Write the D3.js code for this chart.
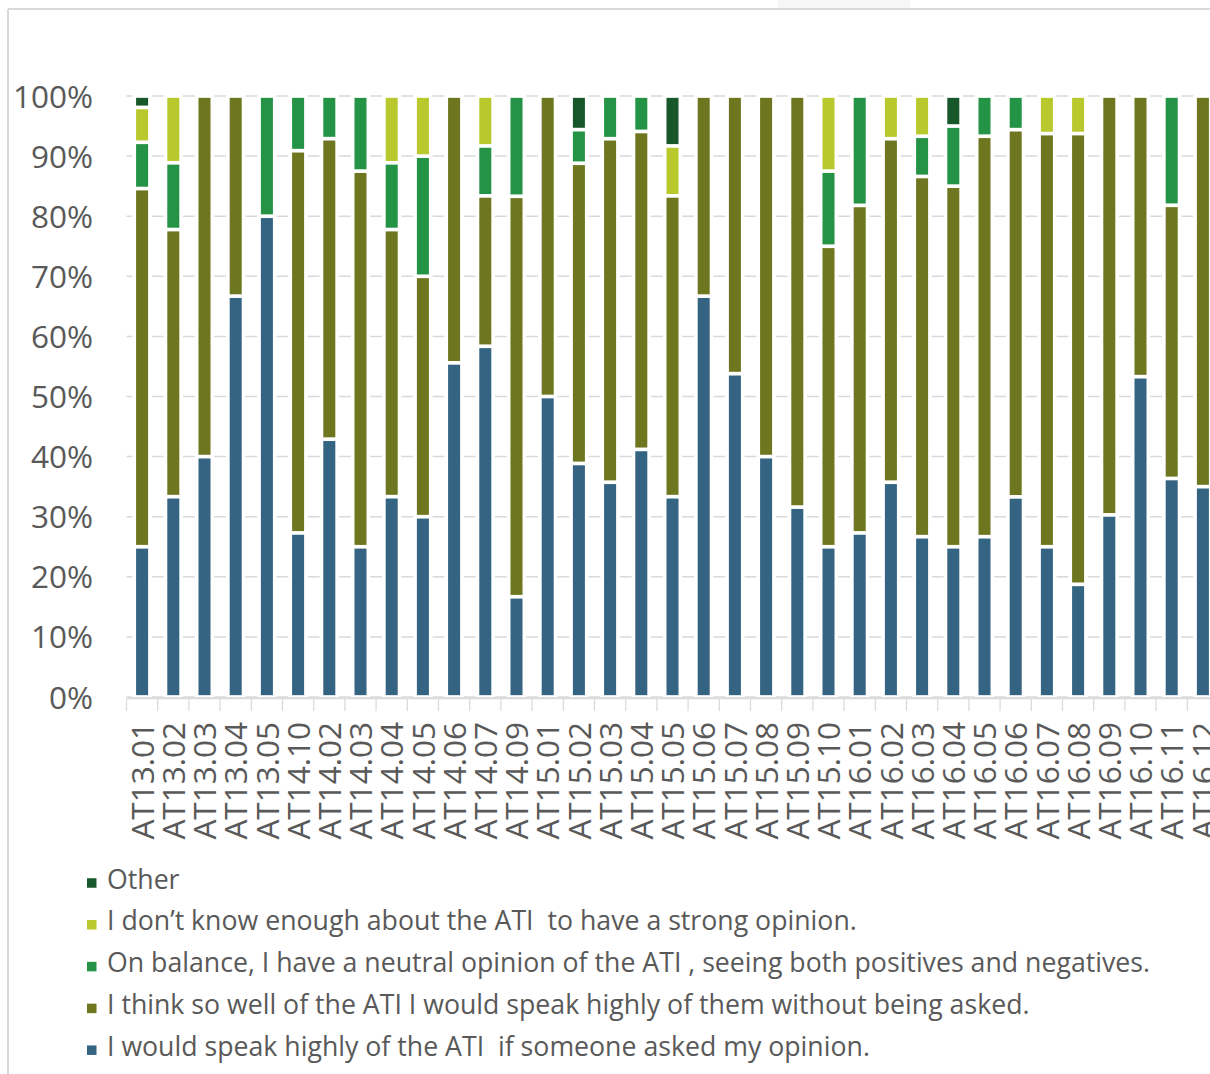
<!DOCTYPE html>
<html>
<head>
<meta charset="utf-8">
<script src="https://cdn.jsdelivr.net/npm/d3@7/dist/d3.min.js"></script>
<style>
  html, body { margin: 0; padding: 0; background: #ffffff; }
  svg { display: block; }
  text { font-family: "Open Sans", "Noto Sans", sans-serif; fill: #595959; }
</style>
</head>
<body>
<svg id="chart" width="1210" height="1074"></svg>
<script>
// Course codes along the x axis
const categories = [
  "AT13.01","AT13.02","AT13.03","AT13.04","AT13.05","AT14.10","AT14.02","AT14.03",
  "AT14.04","AT14.05","AT14.06","AT14.07","AT14.09","AT15.01","AT15.02","AT15.03",
  "AT15.04","AT15.05","AT15.06","AT15.07","AT15.08","AT15.09","AT15.10","AT16.01",
  "AT16.02","AT16.03","AT16.04","AT16.05","AT16.06","AT16.07","AT16.08","AT16.09",
  "AT16.10","AT16.11","AT16.12"
];

// Share of responses (%) per course, one array per answer, stacked bottom to top
const speakIfAsked = [
  25.0, 33.3, 40.0, 66.7, 80.0, 27.3, 42.9, 25.0, 33.3, 30.0, 55.6, 58.3, 16.7, 50.0, 38.9, 35.7,
  41.2, 33.3, 66.7, 53.8, 40.0, 31.6, 25.0, 27.3, 35.7, 26.7, 25.0, 26.7, 33.3, 25.0, 18.75, 30.3,
  53.3, 36.4, 35.0
];
const speakUnasked = [
  59.6, 44.4, 60.0, 33.3, 0.0, 63.6, 50.0, 62.5, 44.4, 40.0, 44.4, 25.0, 66.7, 50.0, 50.0, 57.1,
  52.9, 50.0, 33.3, 46.2, 60.0, 68.4, 50.0, 54.5, 57.1, 60.0, 60.0, 66.7, 61.1, 68.75, 75.0, 69.7,
  46.7, 45.5, 65.0
];
const neutral = [
  7.7, 11.1, 0.0, 0.0, 20.0, 9.1, 7.1, 12.5, 11.1, 20.0, 0.0, 8.3, 16.7, 0.0, 5.6, 7.1,
  5.9, 0.0, 0.0, 0.0, 0.0, 0.0, 12.5, 18.2, 0.0, 6.7, 10.0, 6.7, 5.6, 0.0, 0.0, 0.0,
  0.0, 18.2, 0.0
];
const dontKnow = [
  5.8, 11.1, 0.0, 0.0, 0.0, 0.0, 0.0, 0.0, 11.1, 10.0, 0.0, 8.3, 0.0, 0.0, 0.0, 0.0,
  0.0, 8.3, 0.0, 0.0, 0.0, 0.0, 12.5, 0.0, 7.1, 6.7, 0.0, 0.0, 0.0, 6.25, 6.25, 0.0,
  0.0, 0.0, 0.0
];
const other = [
  1.9, 0.0, 0.0, 0.0, 0.0, 0.0, 0.0, 0.0, 0.0, 0.0, 0.0, 0.0, 0.0, 0.0, 5.6, 0.0,
  0.0, 8.3, 0.0, 0.0, 0.0, 0.0, 0.0, 0.0, 0.0, 0.0, 5.0, 0.0, 0.0, 0.0, 0.0, 0.0,
  0.0, 0.0, 0.0
];

const seriesKeys = ["speak", "unasked", "neutral", "dontknow", "other"];
const seriesLabels = [
  "I would speak highly of the ATI  if someone asked my opinion.",
  "I think so well of the ATI I would speak highly of them without being asked.",
  "On balance, I have a neutral opinion of the ATI , seeing both positives and negatives.",
  "I don\u2019t know enough about the ATI  to have a strong opinion.",
  "Other"
];
const seriesColors = ["#356482", "#6e771f", "#249346", "#b9c82d", "#17572a"];
const yTicks = [0, 10, 20, 30, 40, 50, 60, 70, 80, 90, 100];

const rows = categories.map((c, i) => ({
  cat: c,
  speak: speakIfAsked[i],
  unasked: speakUnasked[i],
  neutral: neutral[i],
  dontknow: dontKnow[i],
  other: other[i]
}));

// Normalise each column to 100%
const stacked = d3.stack().keys(seriesKeys).offset(d3.stackOffsetExpand)(rows);

const svg = d3.select("#chart");

// Outer frame of the chart area
svg.append("rect").attr("x", 778).attr("y", 0).attr("width", 132).attr("height", 8).attr("fill", "#f6f6f6");
svg.append("line").attr("x1", 8).attr("x2", 1210).attr("y1", 9).attr("y2", 9)
  .attr("stroke", "#d9d9d9").attr("stroke-width", 2);
svg.append("line").attr("x1", 8).attr("x2", 8).attr("y1", 9).attr("y2", 1074)
  .attr("stroke", "#d9d9d9").attr("stroke-width", 2);

const x = d3.scaleBand().domain(categories).range([126.5, 1218.5]).paddingInner(0.615).paddingOuter(0.3075);
const y = d3.scaleLinear().domain([0, 1]).range([697, 96]);

// Horizontal gridlines
svg.append("g").selectAll("line").data(yTicks).join("line")
  .attr("x1", 126.5).attr("x2", 1218.5)
  .attr("y1", d => y(d / 100)).attr("y2", d => y(d / 100))
  .attr("stroke", "#d9d9d9").attr("stroke-width", 1.5);

// Y axis labels
const yAxis = d3.axisLeft(y).tickValues(yTicks.map(d => d / 100)).tickFormat(d3.format(".0%")).tickSize(0).tickPadding(0);
const gy = svg.append("g").attr("transform", "translate(93,0)").call(yAxis);
gy.select(".domain").remove();
gy.selectAll("text").attr("font-size", 31.5).attr("fill", "#595959")
  .attr("font-family", "'Open Sans', sans-serif").attr("dy", "0.35em");

const bw = x.bandwidth();
const gap = 3.7;

// White halo behind each column so gridlines stop short of the bars
svg.append("g").selectAll("rect").data(categories).join("rect")
  .attr("x", d => x(d) - gap).attr("width", bw + 2 * gap)
  .attr("y", y(1) - 1).attr("height", y(0) - y(1) + 1)
  .attr("fill", "#ffffff");

// Stacked segments, separated by a thin white gap
svg.append("g").selectAll("g").data(stacked).join("g")
  .attr("fill", (d, i) => seriesColors[i])
  .selectAll("rect").data(d => d.filter(s => s[1] - s[0] > 1e-6)).join("rect")
  .attr("x", d => x(d.data.cat))
  .attr("width", bw)
  .attr("y", d => y(d[1]) + gap / 2)
  .attr("height", d => Math.max(0, y(d[0]) - y(d[1]) - gap));

// X axis baseline and tick marks at category boundaries
const axisY = 698.5;
svg.append("line").attr("x1", 126.5).attr("x2", 1218.5).attr("y1", axisY).attr("y2", axisY)
  .attr("stroke", "#d9d9d9").attr("stroke-width", 1.5);
const step = x.step();
svg.append("g").selectAll("line").data(d3.range(categories.length + 1)).join("line")
  .attr("x1", i => 126.5 + i * step).attr("x2", i => 126.5 + i * step)
  .attr("y1", axisY).attr("y2", 711)
  .attr("stroke", "#d9d9d9").attr("stroke-width", 1.2);

// Rotated category labels
svg.append("g").selectAll("text").data(categories).join("text")
  .attr("transform", d => `translate(${x(d) + bw / 2},722) rotate(-90)`)
  .attr("text-anchor", "end")
  .attr("dy", "0.37em")
  .attr("font-size", 31.5)
  .text(d => d);

// Legend, listed top to bottom in reverse stacking order
const legendOrder = [4, 3, 2, 1, 0];
const lg = svg.append("g").selectAll("g").data(legendOrder).join("g")
  .attr("transform", (d, i) => `translate(87,${883 + i * 41.8})`);
lg.append("rect").attr("x", 0).attr("y", -4.75).attr("width", 9.5).attr("height", 9.5)
  .attr("fill", d => seriesColors[d]);
lg.append("text").attr("x", 20).attr("y", 5.5).attr("font-size", 26.7)
  .style("white-space", "pre")
  .text(d => seriesLabels[d]);
</script>
</body>
</html>
